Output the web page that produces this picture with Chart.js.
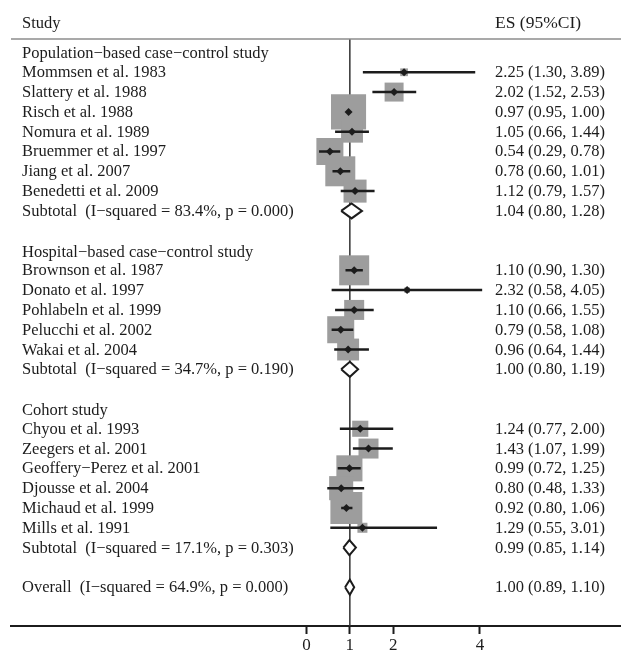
<!DOCTYPE html>
<html>
<head>
<meta charset="utf-8">
<title>Forest plot</title>
<script src="https://cdn.jsdelivr.net/npm/chart.js@4.4.1/dist/chart.umd.min.js"></script>
<style>
    html, body { margin: 0; padding: 0; background: #fff; }
    #wrap { width: 621px; height: 655px; }
</style>
</head>
<body>
<div id="wrap"><canvas id="chart" width="621" height="655"></canvas></div>
<script>
const groupTitles = ["Population−based case−control study", "Hospital−based case−control study", "Cohort study"];
const groupRows = [0, 10, 18];

const studies = [
    "Mommsen et al. 1983", "Slattery et al. 1988", "Risch et al. 1988", "Nomura et al. 1989",
    "Bruemmer et al. 1997", "Jiang et al. 2007", "Benedetti et al. 2009",
    "Brownson et al. 1987", "Donato et al. 1997", "Pohlabeln et al. 1999", "Pelucchi et al. 2002", "Wakai et al. 2004",
    "Chyou et al. 1993", "Zeegers et al. 2001", "Geoffery−Perez et al. 2001", "Djousse et al. 2004",
    "Michaud et al. 1999", "Mills et al. 1991"
];
const studyRows = [1, 2, 3, 4, 5, 6, 7, 11, 12, 13, 14, 15, 19, 20, 21, 22, 23, 24];
const studyES = [2.25, 2.02, 0.97, 1.05, 0.54, 0.78, 1.12, 1.10, 2.32, 1.10, 0.79, 0.96, 1.24, 1.43, 0.99, 0.80, 0.92, 1.29];
const studyLow = [1.30, 1.52, 0.95, 0.66, 0.29, 0.60, 0.79, 0.90, 0.58, 0.66, 0.58, 0.64, 0.77, 1.07, 0.72, 0.48, 0.80, 0.55];
const studyHigh = [3.89, 2.53, 1.00, 1.44, 0.78, 1.01, 1.57, 1.30, 4.05, 1.55, 1.08, 1.44, 2.00, 1.99, 1.25, 1.33, 1.06, 3.01];
// relative weights (box area)
const studyWeights = [0.6, 3.6, 12.3, 4.8, 7.3, 9.0, 5.3, 9.0, 0.3, 4.0, 7.3, 4.8, 2.6, 4.0, 6.8, 5.8, 10.2, 1.0];

const summaryLabels = [
    "Subtotal  (I−squared = 83.4%, p = 0.000)",
    "Subtotal  (I−squared = 34.7%, p = 0.190)",
    "Subtotal  (I−squared = 17.1%, p = 0.303)",
    "Overall  (I−squared = 64.9%, p = 0.000)"
];
const summaryRows = [8, 16, 25, 27];
const summaryES = [1.04, 1.00, 0.99, 1.00];
const summaryLow = [0.80, 0.80, 0.85, 0.89];
const summaryHigh = [1.28, 1.19, 1.14, 1.10];

const xTicks = [0, 1, 2, 4];
const nullValue = 1;

const X_MIN = -6.81, X_MAX = 7.25;
const Y_MIN = -0.68, Y_MAX = 28.96;
const FONT = '16.5px "Liberation Serif", "Times New Roman", serif';
const INK = "#1c1c1c";

function fmt(es, lo, hi) {
    return `${es.toFixed(2)} (${lo.toFixed(2)}, ${hi.toFixed(2)})`;
}

// CI segments, separated by gaps
const ciData = [];
studyRows.forEach((r, i) => {
    ciData.push({ x: studyLow[i], y: r });
    ciData.push({ x: studyHigh[i], y: r });
    ciData.push({ x: null, y: null });
});

const diamondSets = summaryRows.map((r, i) => ({
    data: [
        { x: summaryLow[i], y: r },
        { x: summaryES[i], y: r - 0.38 },
        { x: summaryHigh[i], y: r },
        { x: summaryES[i], y: r + 0.38 },
        { x: summaryLow[i], y: r },
    ],
    showLine: true,
    borderColor: INK,
    borderWidth: 2,
    backgroundColor: "#ffffff",
    fill: "shape",
    pointRadius: 0,
    order: 2,
}));

const textPlugin = {
    id: "forestText",
    afterDraw(chart) {
        const ctx = chart.ctx;
        const yScale = chart.scales.y;
        const area = chart.chartArea;
        const leftX = 22;
        const rightX = 495;

        ctx.save();
        // header rule
        ctx.strokeStyle = "#8c8c8c";
        ctx.lineWidth = 1.5;
        ctx.beginPath();
        ctx.moveTo(area.left, area.top);
        ctx.lineTo(area.right, area.top);
        ctx.stroke();

        ctx.font = FONT;
        ctx.fillStyle = INK;
        ctx.textAlign = "left";
        ctx.textBaseline = "alphabetic";
        ctx.fillText("Study", leftX, 28);
        ctx.font = '17.5px "Liberation Serif", serif';
        ctx.fillText("ES (95%CI)", rightX, 28);
        ctx.font = FONT;

        groupTitles.forEach((t, i) => {
            ctx.fillText(t, leftX, yScale.getPixelForValue(groupRows[i]) + 6);
        });
        studies.forEach((s, i) => {
            const y = yScale.getPixelForValue(studyRows[i]) + 5;
            ctx.fillText(s, leftX, y);
            ctx.fillText(fmt(studyES[i], studyLow[i], studyHigh[i]), rightX, y);
        });
        summaryLabels.forEach((s, i) => {
            const y = yScale.getPixelForValue(summaryRows[i]) + 5;
            ctx.fillText(s, leftX, y);
            ctx.fillText(fmt(summaryES[i], summaryLow[i], summaryHigh[i]), rightX, y);
        });
        ctx.restore();
    }
};

const ctx = document.getElementById("chart").getContext("2d");
new Chart(ctx, {
    type: "scatter",
    data: {
        datasets: [
            {
                // line of no effect
                data: [{ x: nullValue, y: Y_MIN }, { x: nullValue, y: Y_MAX }],
                showLine: true,
                borderColor: "#333333",
                borderWidth: 1.5,
                pointRadius: 0,
                order: 6,
            },
            {
                // weight boxes
                data: studyRows.map((r, i) => ({ x: studyES[i], y: r })),
                pointStyle: "rect",
                pointRadius: studyWeights.map(w => 10 * Math.sqrt(w) / Math.SQRT2),
                backgroundColor: "#9d9d9d",
                borderWidth: 0,
                order: 5,
            },
            {
                data: ciData,
                showLine: true,
                spanGaps: false,
                borderColor: INK,
                borderWidth: 2.5,
                pointRadius: 0,
                order: 3,
            },
            ...diamondSets,
            {
                // point estimates
                data: studyRows.map((r, i) => ({ x: studyES[i], y: r })),
                pointStyle: "rectRot",
                pointRadius: 4,
                backgroundColor: INK,
                borderWidth: 0,
                order: 1,
            },
        ],
    },
    options: {
        responsive: false,
        animation: false,
        devicePixelRatio: 1,
        events: [],
        layout: { autoPadding: false, padding: { top: 39, left: 11, right: 0, bottom: 0 } },
        plugins: {
            legend: { display: false },
            tooltip: { enabled: false },
        },
        scales: {
            x: {
                type: "linear",
                min: X_MIN,
                max: X_MAX,
                afterBuildTicks: axis => { axis.ticks = xTicks.map(v => ({ value: v })); },
                afterFit: axis => {
                    axis.height = 29;
                    axis.paddingLeft = 0;
                    axis.paddingRight = 0;
                },
                grid: {
                    drawOnChartArea: false,
                    drawTicks: true,
                    tickLength: 8,
                    tickWidth: 2,
                    tickColor: INK,
                },
                border: { display: true, color: INK, width: 2 },
                ticks: {
                    autoSkip: false,
                    maxRotation: 0,
                    padding: 1,
                    color: INK,
                    font: { family: '"Liberation Serif", serif', size: 17 },
                },
            },
            y: {
                type: "linear",
                display: false,
                reverse: true,
                min: Y_MIN,
                max: Y_MAX,
            },
        },
    },
    plugins: [textPlugin],
});
</script>
</body>
</html>
